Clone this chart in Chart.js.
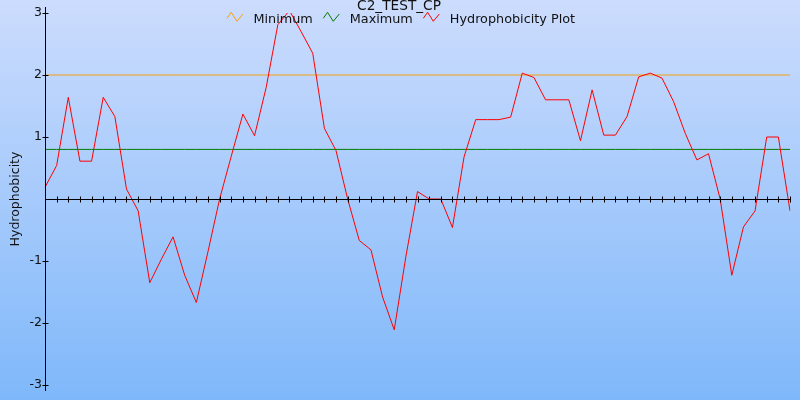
<!DOCTYPE html>
<html>
<head>
<meta charset="utf-8">
<style>html,body{margin:0;padding:0;background:#fff}canvas{display:block}</style>
<script src="https://cdn.jsdelivr.net/npm/chart.js@4"></script>
</head>
<body>
<canvas id="c" width="800" height="400"></canvas>
<script>
const chartTitle = 'C2_TEST_CP';
const yAxisTitle = 'Hydrophobicity';
const categories = ['1','2','3','4','5','6','7','8','9','10','11','12','13','14','15','16','17','18','19','20','21','22','23','24','25','26','27','28','29','30','31','32','33','34','35','36','37','38','39','40','41','42','43','44','45','46','47','48','49','50','51','52','53','54','55','56','57','58','59','60','61','62','63','64','65'];
const hydrophobicity = [0.19,0.54,1.64,0.61,0.61,1.64,1.33,0.16,-0.19,-1.35,
  -0.97,-0.61,-1.23,-1.67,-0.85,0.0,0.69,1.37,1.02,1.8,
  2.81,3.04,2.70,2.35,1.14,0.78,0.0,-0.67,-0.82,-1.58,
  -2.11,-0.93,0.12,0.0,0.0,-0.46,0.68,1.28,1.28,1.28,
  1.32,2.03,1.96,1.60,1.60,1.60,0.94,1.76,1.03,1.03,
  1.33,1.97,2.03,1.95,1.57,1.06,0.63,0.73,0.0,-1.23,
  -0.45,-0.19,1.0,1.0,-0.19];
const minimum = [2,2,2,2,2,2,2,2,2,2,2,2,2,2,2,2,2,2,2,2,2,2,2,2,2,2,2,2,2,2,2,2,2,2,2,2,2,2,2,2,2,2,2,2,2,2,2,2,2,2,2,2,2,2,2,2,2,2,2,2,2,2,2,2,2];
const maximum = [0.8,0.8,0.8,0.8,0.8,0.8,0.8,0.8,0.8,0.8,0.8,0.8,0.8,0.8,0.8,0.8,0.8,0.8,0.8,0.8,0.8,0.8,0.8,0.8,0.8,0.8,0.8,0.8,0.8,0.8,0.8,0.8,0.8,0.8,0.8,0.8,0.8,0.8,0.8,0.8,0.8,0.8,0.8,0.8,0.8,0.8,0.8,0.8,0.8,0.8,0.8,0.8,0.8,0.8,0.8,0.8,0.8,0.8,0.8,0.8,0.8,0.8,0.8,0.8,0.8];
const yTicks = [-3,-2,-1,0,1,2,3];

const FONT = 'DejaVu Sans';
const TEXT = '#111111';

const bgPlugin = {
  id: 'bg',
  beforeDraw(chart) {
    const ctx = chart.ctx;
    const g = ctx.createLinearGradient(0, 0, 0, chart.height);
    g.addColorStop(0, '#ccdcfd');
    g.addColorStop(1, '#7fb8fa');
    ctx.save();
    ctx.fillStyle = g;
    ctx.fillRect(0, 0, chart.width, chart.height);
    ctx.restore();
  }
};

const axesPlugin = {
  id: 'axes',
  afterDatasetsDraw(chart) {
    const ctx = chart.ctx;
    const xs = chart.scales.x, ys = chart.scales.y;
    const ax = Math.round(xs.getPixelForValue(0)) + 0.5;
    const zy = Math.round(ys.getPixelForValue(0)) + 0.5;
    ctx.save();
    ctx.strokeStyle = '#000';
    ctx.lineWidth = 1;
    ctx.beginPath();
    ctx.moveTo(ax, ys.getPixelForValue(3) - 6);
    ctx.lineTo(ax, ys.getPixelForValue(-3) + 6);
    yTicks.forEach(v => {
      if (v === 0) return;
      const y = Math.round(ys.getPixelForValue(v)) + 0.5;
      ctx.moveTo(ax - 3, y); ctx.lineTo(ax + 3, y);
    });
    ctx.moveTo(ax, zy);
    ctx.lineTo(xs.getPixelForValue(categories.length - 1), zy);
    for (let i = 1; i < categories.length; i++) {
      const x = Math.round(xs.getPixelForValue(i)) + 0.5;
      ctx.moveTo(x, zy - 3); ctx.lineTo(x, zy + 3);
    }
    ctx.stroke();
    ctx.restore();
  },
  afterDraw(chart) {
    const ctx = chart.ctx;
    ctx.save();
    ctx.fillStyle = TEXT;
    ctx.font = '13.7px "' + FONT + '"';
    ctx.textAlign = 'center';
    ctx.textBaseline = 'alphabetic';
    ctx.fillText(chartTitle, 399, 10);
    ctx.font = '12.8px "' + FONT + '"';
    ctx.textAlign = 'left';
    const items = [0, 1, 2].map(i => chart.data.datasets[i]);
    const iconW = 16, gap = 10.5;
    let total = 0;
    items.forEach((d, i) => { total += iconW + gap + ctx.measureText(d.label).width + (i < items.length - 1 ? gap : 0); });
    let x = 401 - total / 2;
    const top = 12.3;
    items.forEach(d => {
      ctx.strokeStyle = d.borderColor;
      ctx.lineWidth = 1;
      ctx.beginPath();
      ctx.moveTo(x, top + 6);
      ctx.lineTo(x + 4.3, top);
      ctx.lineTo(x + 10, top + 9);
      ctx.lineTo(x + 16, top + 1.7);
      ctx.stroke();
      x += iconW + gap;
      ctx.fillStyle = TEXT;
      ctx.fillText(d.label, x, 23);
      x += ctx.measureText(d.label).width + gap;
    });
    ctx.restore();
  }
};

new Chart(document.getElementById('c'), {
  type: 'line',
  data: {
    labels: categories,
    datasets: [
      { label: 'Minimum', data: minimum, borderColor: '#f5a00f', borderWidth: 1, pointRadius: 0, tension: 0, order: 2 },
      { label: 'Maximum', data: maximum, borderColor: '#007a00', borderWidth: 1, pointRadius: 0, tension: 0, order: 1 },
      { label: 'Hydrophobicity Plot', data: hydrophobicity, borderColor: '#ff0000', borderWidth: 1, pointRadius: 0, tension: 0, order: 0 }
    ]
  },
  options: {
    responsive: false,
    animation: false,
    devicePixelRatio: 1,
    layout: { padding: { left: 0, top: 13, right: 10, bottom: 15 } },
    plugins: { legend: { display: false }, title: { display: false }, tooltip: { enabled: false } },
    scales: {
      x: { type: 'category', offset: false, display: false },
      y: {
        min: -3, max: 3,
        afterFit(s) { s.width = 45; },
        grid: { display: false, drawTicks: false },
        border: { display: false },
        ticks: { stepSize: 1, padding: 3, color: TEXT, font: { family: FONT, size: 12.5 },
          callback: v => v === 0 ? '' : String(v) },
        title: { display: true, text: yAxisTitle, color: TEXT, font: { family: FONT, size: 12.5 }, padding: { top: 8, bottom: 0 } }
      }
    }
  },
  plugins: [bgPlugin, axesPlugin]
});
</script>
</body>
</html>
